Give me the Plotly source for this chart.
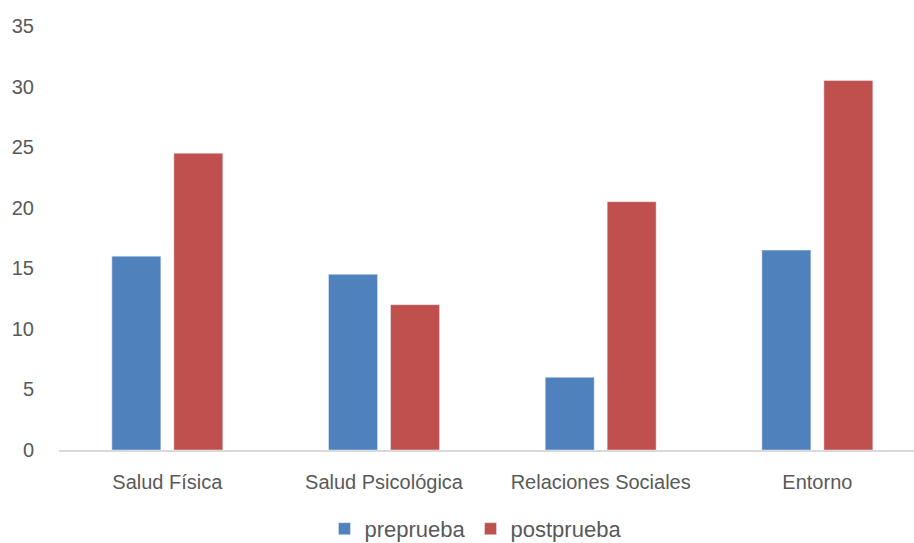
import plotly.graph_objects as go

categories = ["Salud Física", "Salud Psicológica", "Relaciones Sociales", "Entorno"]
preprueba = [16, 14.5, 6, 16.5]
postprueba = [24.5, 12, 20.5, 30.5]
y_ticks = [0, 5, 10, 15, 20, 25, 30, 35]

font_family = "Liberation Sans, Arial, sans-serif"
text_color = "#595959"

fig = go.Figure()
fig.add_trace(go.Bar(name="preprueba", x=categories, y=preprueba, marker_color="#4f81bd"))
fig.add_trace(go.Bar(name="postprueba", x=categories, y=postprueba, marker_color="#c0504d"))

fig.update_layout(
    width=914,
    height=543,
    margin=dict(l=59, r=0, t=26, b=93, autoexpand=False),
    paper_bgcolor="white",
    plot_bgcolor="white",
    barmode="group",
    bargap=0.428,
    bargroupgap=0.21,
    font=dict(family=font_family, color=text_color, size=20),
    showlegend=True,
    legend=dict(
        orientation="h",
        x=0.355,
        xanchor="left",
        xref="container",
        y=0.026,
        yanchor="middle",
        yref="container",
        font=dict(size=22, color=text_color),
        itemwidth=30,
        tracegroupgap=0,
    ),
)

fig.update_xaxes(
    range=[-0.5, 3.446],
    automargin=False,
    showline=True,
    linecolor="#d9d9d9",
    linewidth=2,
    showgrid=False,
    ticks="",
    tickfont=dict(size=20, color=text_color),
    ticklabelstandoff=13,
)
fig.update_yaxes(
    range=[0, 35],
    automargin=False,
    tickvals=y_ticks,
    showgrid=False,
    zeroline=False,
    showline=False,
    ticks="",
    tickfont=dict(size=20, color=text_color),
    ticklabelstandoff=24,
)

fig.write_html("out.html")
